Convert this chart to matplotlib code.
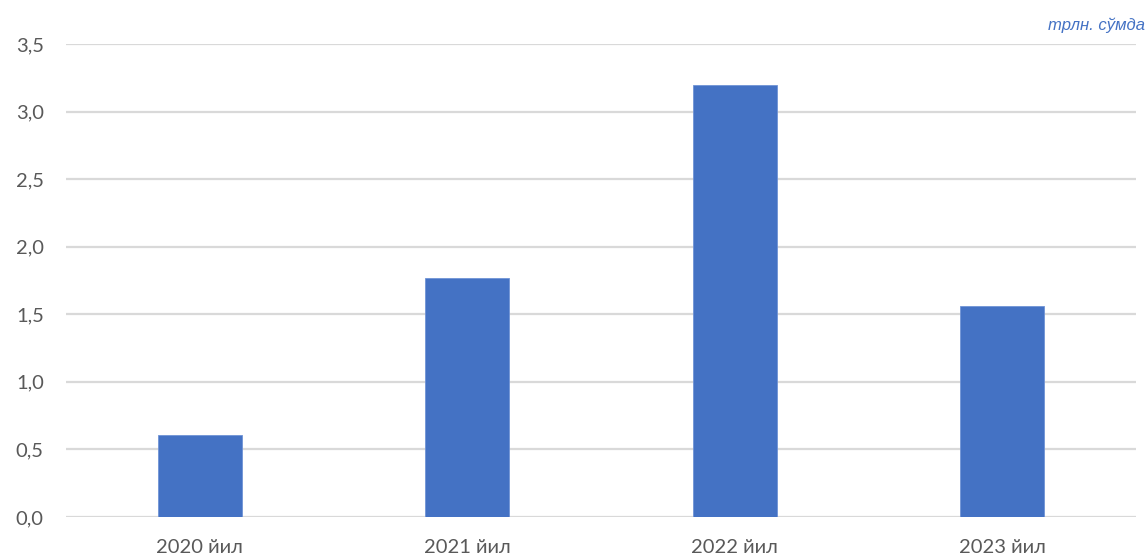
import matplotlib
matplotlib.use('Agg')
import matplotlib.pyplot as plt
import numpy as np

# данные с графика
years = ['2020 йил', '2021 йил', '2022 йил', '2023 йил']
values = [0.61, 1.77, 3.2, 1.56]
y_ticks = [0.0, 0.5, 1.0, 1.5, 2.0, 2.5, 3.0, 3.5]
unit_label = 'трлн. сўмда'

plt.rcParams['font.family'] = ['Lato', 'DejaVu Sans']

fig = plt.figure(figsize=(11.47, 5.6), dpi=100)
ax = fig.add_axes([66 / 1147, 43 / 560, 1070 / 1147, 473 / 560])

x = np.arange(len(years))
ax.bar(x, values, width=0.313, color='#4472C4', edgecolor='#6F93D6', linewidth=0.6, zorder=3)

ax.set_xlim(-0.5, len(years) - 0.5)
ax.set_ylim(0, 3.5)
ax.set_yticks(y_ticks)
ax.set_yticklabels([f'{t:.1f}'.replace('.', ',') for t in y_ticks])
ax.set_xticks(x)
ax.set_xticklabels(years)

ax.grid(axis='y', color='#D9D9D9', linewidth=1.6, zorder=0)
ax.tick_params(axis='both', length=0, colors='#595959', labelsize=14.5)
ax.tick_params(axis='x', pad=16)
ax.tick_params(axis='y', pad=16)
for s in ax.spines.values():
    s.set_visible(False)

fig.text(1145 / 1147, 1 - 25 / 560, unit_label, ha='right', va='center',
         fontsize=12, style='italic', color='#4472C4',
         family=['Liberation Sans', 'DejaVu Sans'])

fig.savefig('out.png', dpi=100)
